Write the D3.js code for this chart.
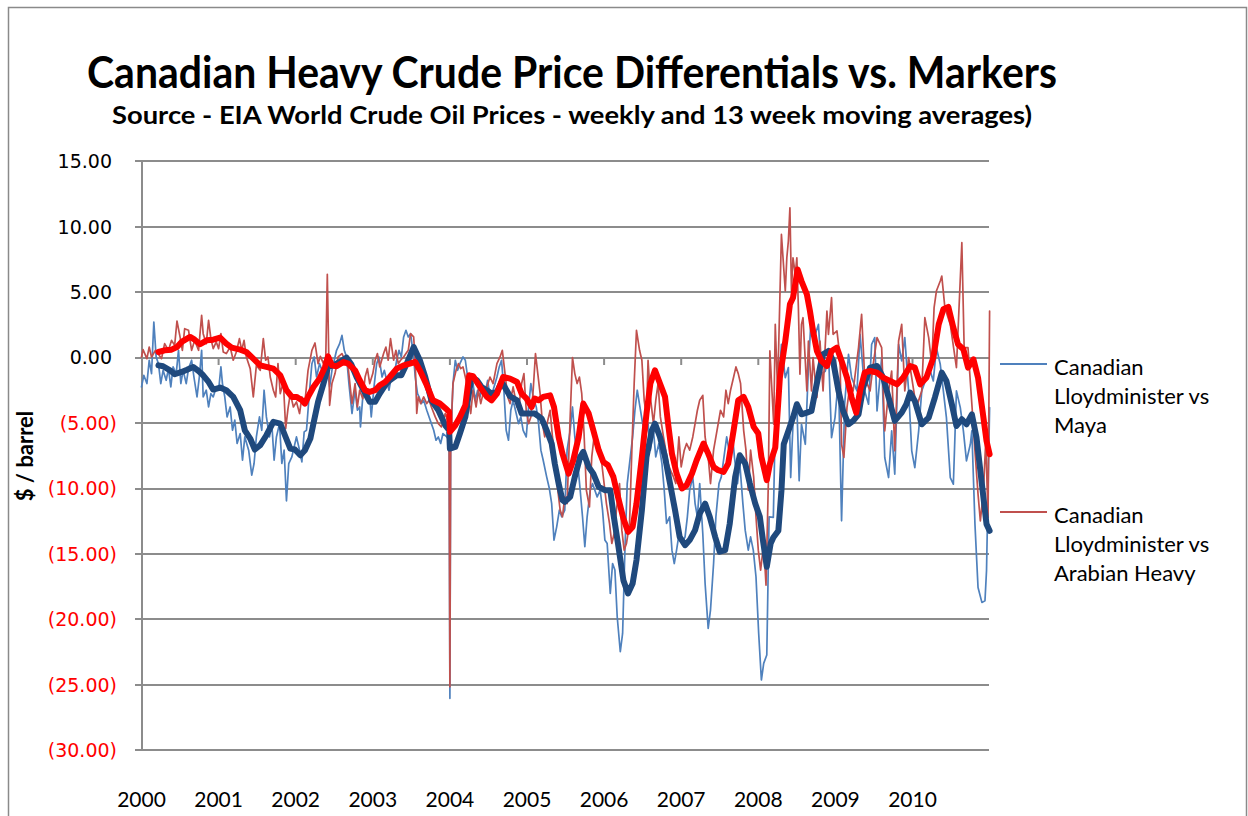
<!DOCTYPE html>
<html>
<head>
<meta charset="utf-8">
<script src="https://cdn.jsdelivr.net/npm/d3@7"></script>
<style>
	body { margin: 0; background: #fff; }
	text { font-family: Lato, "Open Sans", sans-serif; }
</style>
</head>
<body>
<svg id="chart" width="1248" height="816"></svg>
<script>
	///////////////////////////////////////////////////////////////////
	//// Data ////////////////////////////////
	///////////////////////////////////////////////////////////////////
	const yTicks = [15, 10, 5, 0, -5, -10, -15, -20, -25, -30];
	const years = [2000, 2001, 2002, 2003, 2004, 2005, 2006, 2007, 2008, 2009, 2010];
	const seriesNames = ["Canadian Lloydminister vs Maya", "Canadian Lloydminister vs Arabian Heavy"];

	// [decimal year, $/barrel]
	const mayaWeekly = [
		[2000.00,-2.24],[2000.03,-1.35],[2000.07,-1.98],[2000.10,-0.20],[2000.13,-1.22],[2000.16,2.72],[2000.19,0.05],[2000.22,-0.46],
		[2000.25,-1.98],[2000.28,-0.97],[2000.32,-1.73],[2000.35,-0.84],[2000.38,-2.24],[2000.41,-0.71],[2000.45,-1.22],[2000.48,0.56],
		[2000.51,-1.98],[2000.54,-0.97],[2000.58,-1.98],[2000.61,-0.84],[2000.65,-0.20],[2000.68,-1.48],[2000.72,-3.00],[2000.75,-1.48],
		[2000.78,0.56],[2000.80,-3.00],[2000.84,-2.49],[2000.87,-3.77],[2000.90,-2.75],[2000.93,-3.00],[2000.97,-2.24],[2001.00,-2.49],
		[2001.03,-0.71],[2001.05,-1.98],[2001.08,-3.00],[2001.11,-4.53],[2001.15,-3.77],[2001.18,-5.55],[2001.21,-4.78],[2001.24,-6.56],
		[2001.28,-5.80],[2001.31,-7.84],[2001.34,-6.06],[2001.39,-7.07],[2001.43,-8.98],[2001.46,-8.09],[2001.49,-6.06],[2001.53,-4.53],
		[2001.56,-5.55],[2001.59,-2.49],[2001.62,-4.53],[2001.66,-6.06],[2001.69,-5.04],[2001.72,-7.84],[2001.75,-6.06],[2001.79,-5.04],
		[2001.82,-8.09],[2001.85,-7.07],[2001.88,-10.94],[2001.91,-8.09],[2001.95,-7.58],[2001.98,-6.82],[2002.01,-6.06],[2002.05,-7.07],
		[2002.08,-7.96],[2002.11,-5.67],[2002.14,-5.55],[2002.18,-2.49],[2002.21,-0.46],[2002.24,0.05],[2002.27,-1.48],[2002.31,-0.46],
		[2002.34,-0.97],[2002.37,-1.22],[2002.40,-0.46],[2002.44,-2.24],[2002.47,-0.97],[2002.50,-0.20],[2002.53,0.56],[2002.57,1.07],
		[2002.60,1.70],[2002.63,0.56],[2002.66,0.05],[2002.69,-1.98],[2002.73,-4.27],[2002.77,-2.49],
		[2002.80,-4.02],[2002.83,-3.77],[2002.84,-5.29],[2002.87,-3.00],[2002.90,-2.75],[2002.93,-2.49],[2002.96,-3.00],[2002.98,-4.53],
		[2003.02,-1.98],[2003.05,-0.46],[2003.08,0.05],[2003.12,-1.48],[2003.15,-0.97],[2003.18,-1.73],[2003.21,-2.49],[2003.24,-1.48],
		[2003.28,-1.22],[2003.31,-0.20],[2003.34,0.56],[2003.37,0.05],[2003.40,1.58],[2003.43,2.09],[2003.46,1.58],[2003.49,1.83],
		[2003.53,0.05],[2003.55,-1.48],[2003.58,-2.75],[2003.60,-3.00],[2003.63,-3.51],[2003.66,-3.26],[2003.70,-4.02],[2003.73,-4.53],
		[2003.76,-5.04],[2003.79,-5.55],[2003.82,-6.31],[2003.85,-6.06],[2003.88,-6.56],[2003.91,-5.80],[2003.96,-6.06],[2003.99,-6.31],
		[2004.00,-26.03],[2004.01,-6.56],[2004.04,-1.98],[2004.07,-0.20],[2004.10,-0.97],[2004.13,-0.46],[2004.17,0.05],[2004.20,-0.20],
		[2004.23,-1.48],[2004.26,-2.49],[2004.30,-1.98],[2004.33,-3.26],[2004.36,-2.49],[2004.39,-3.00],[2004.42,-2.24],[2004.455,-2.75],
		[2004.49,-1.73],[2004.52,-3.00],[2004.56,-2.49],[2004.61,-1.48],[2004.64,-0.71],[2004.67,-0.20],[2004.70,-2.49],[2004.73,-5.55],
		[2004.76,-6.31],[2004.79,-4.02],[2004.82,-3.26],[2004.86,-4.27],[2004.89,-5.04],[2004.92,-4.53],[2004.95,-5.55],[2004.99,-6.06],
		[2005.02,-3.77],[2005.05,-1.98],[2005.08,-3.00],[2005.12,-3.77],[2005.15,-5.04],[2005.18,-7.07],[2005.21,-7.84],[2005.255,-9.11],
		[2005.29,-10.00],[2005.32,-11.15],[2005.35,-13.94],[2005.385,-12.93],[2005.42,-11.65],[2005.45,-12.16],[2005.49,-11.65],
		[2005.52,-7.07],[2005.56,-5.55],[2005.59,-3.77],[2005.62,-6.06],[2005.65,-7.58],[2005.69,-10.13],[2005.72,-12.16],[2005.75,-14.45],
		[2005.78,-12.16],[2005.82,-10.13],[2005.85,-9.62],[2005.88,-10.13],[2005.91,-10.64],[2005.95,-10.13],[2005.98,-11.65],[2006.01,-13.94],
		[2006.04,-14.20],[2006.08,-18.02],[2006.11,-15.73],[2006.14,-16.23],[2006.17,-19.80],[2006.21,-22.47],[2006.24,-21.07],[2006.27,-14.71],
		[2006.30,-9.62],[2006.34,-7.58],[2006.37,-6.06],[2006.40,-4.02],[2006.43,-2.49],[2006.465,-3.77],[2006.50,-5.04],[2006.535,-6.06],
		[2006.57,-5.04],[2006.60,-7.07],[2006.64,-5.55],[2006.67,-7.58],[2006.71,-6.56],[2006.75,-8.09],[2006.78,-10.13],[2006.81,-12.67],
		[2006.85,-12.16],[2006.88,-14.71],[2006.91,-15.73],[2006.94,-14.71],[2006.98,-13.18],[2007.01,-14.20],[2007.05,-13.69],[2007.08,-12.16],
		[2007.11,-10.13],[2007.15,-9.11],[2007.18,-11.15],[2007.21,-12.16],[2007.24,-9.62],[2007.28,-13.44],[2007.31,-17.25],[2007.35,-20.69],
		[2007.38,-19.29],[2007.42,-15.73],[2007.45,-12.16],[2007.49,-9.62],[2007.52,-9.11],[2007.555,-7.58],[2007.59,-6.06],[2007.62,-7.07],
		[2007.66,-5.55],[2007.69,-7.58],[2007.73,-9.62],[2007.76,-8.09],[2007.80,-11.15],[2007.83,-13.18],[2007.87,-14.71],[2007.90,-13.69],
		[2007.935,-14.71],[2007.97,-16.74],[2008.005,-21.07],[2008.04,-24.63],[2008.07,-23.36],[2008.11,-22.72],[2008.14,-12.16],
		[2008.195,-12.21],[2008.22,-5.09],[2008.26,-2.54],[2008.30,1.02],[2008.35,-1.53],[2008.39,-0.76],[2008.42,-9.16],[2008.45,-5.09],
		[2008.50,-3.56],[2008.53,-9.41],[2008.56,-5.09],[2008.61,-6.62],[2008.65,-0.76],[2008.69,3.56],[2008.74,1.78],[2008.78,2.54],
		[2008.82,-1.27],[2008.87,-1.02],[2008.91,0.51],[2008.95,-6.11],[2008.995,-4.58],[2009.04,-1.53],[2009.08,-12.47],[2009.12,-3.56],
		[2009.17,0.25],[2009.21,-1.53],[2009.28,-2.54],[2009.32,1.78],[2009.38,-2.54],[2009.43,-3.56],[2009.47,1.02],[2009.51,1.53],
		[2009.54,-4.07],[2009.60,0.00],[2009.64,-7.63],[2009.69,-9.16],[2009.73,-5.60],[2009.77,-8.91],[2009.82,1.02],[2009.86,-0.25],
		[2009.90,1.53],[2009.95,-2.54],[2009.99,-7.12],[2010.03,-8.40],[2010.08,-5.60],[2010.12,-2.54],[2010.18,-1.53],[2010.23,-1.02],
		[2010.27,-1.78],[2010.31,0.76],[2010.36,-0.51],[2010.40,-2.54],[2010.44,-4.58],[2010.49,-9.16],[2010.53,-9.67],[2010.57,-2.54],
		[2010.62,-3.82],[2010.66,-5.60],[2010.70,-7.89],[2010.75,-6.62],[2010.77,-5.60],[2010.81,-12.72],[2010.85,-17.56],[2010.90,-18.70],
		[2010.94,-18.58],[2010.96,-16.28],[2011.00,-3.82]
	];

	const arabWeekly = [
		[2000.00,0.05],[2000.02,0.61],[2000.07,-0.08],[2000.10,0.81],[2000.13,0.05],[2000.18,0.56],[2000.22,0.25],[2000.26,-0.08],
		[2000.30,1.07],[2000.35,0.56],[2000.39,1.32],[2000.43,0.94],[2000.46,2.80],[2000.50,1.58],[2000.53,0.56],[2000.56,2.21],
		[2000.61,2.09],[2000.65,0.56],[2000.69,1.32],[2000.74,0.56],[2000.78,3.23],[2000.80,1.83],[2000.84,1.07],[2000.87,2.85],
		[2000.90,1.45],[2000.93,0.69],[2000.97,1.20],[2001.00,0.69],[2001.03,1.83],[2001.06,0.43],[2001.10,0.31],[2001.15,0.81],
		[2001.19,-0.20],[2001.23,0.43],[2001.27,1.45],[2001.30,0.56],[2001.33,1.32],[2001.36,0.05],[2001.41,-0.84],[2001.45,-3.00],
		[2001.49,-0.59],[2001.54,-0.97],[2001.58,1.45],[2001.61,-0.20],[2001.64,0.05],[2001.67,-1.48],[2001.71,-2.49],[2001.74,-3.00],
		[2001.77,-0.46],[2001.80,-2.75],[2001.84,-1.86],[2001.87,-5.42],[2001.90,-3.89],[2001.93,-2.75],[2001.97,-3.77],[2002.01,-3.38],
		[2002.05,-4.27],[2002.08,-3.00],[2002.12,-3.38],[2002.16,-0.97],[2002.21,0.56],[2002.25,1.12],[2002.29,-0.46],[2002.32,0.10],
		[2002.36,-0.46],[2002.39,0.05],[2002.41,6.36],[2002.44,-3.64],[2002.47,-1.98],[2002.51,-1.22],[2002.55,0.05],[2002.60,0.31],
		[2002.64,-0.20],[2002.68,-0.71],[2002.73,-3.51],[2002.77,-1.98],
		[2002.80,-3.77],[2002.83,-2.49],[2002.87,-3.13],[2002.90,-1.48],[2002.93,-0.84],[2002.96,-1.98],[2003.00,-1.22],[2003.03,-0.20],
		[2003.06,0.31],[2003.09,-0.71],[2003.14,0.31],[2003.17,0.81],[2003.20,-0.20],[2003.23,1.45],[2003.27,-0.20],[2003.30,0.56],
		[2003.33,-0.46],[2003.36,-0.20],[2003.40,0.05],[2003.43,0.31],[2003.46,0.56],[2003.49,1.83],[2003.53,1.58],[2003.55,-0.20],
		[2003.57,-4.27],[2003.59,-3.00],[2003.62,-3.51],[2003.66,-3.00],[2003.70,-3.51],[2003.73,-3.26],[2003.76,-3.77],[2003.81,-4.53],
		[2003.85,-5.04],[2003.89,-5.29],[2003.94,-4.27],[2003.98,-5.04],[2003.99,-6.06],[2004.00,-25.14],[2004.01,-6.06],[2004.04,-1.98],
		[2004.08,-0.97],[2004.11,-0.46],[2004.14,-0.84],[2004.17,-0.71],[2004.21,-1.73],[2004.24,-3.00],[2004.27,-4.27],[2004.30,-2.49],
		[2004.34,-3.77],[2004.37,-2.49],[2004.40,-3.51],[2004.43,-2.75],[2004.48,-2.24],[2004.52,-1.48],[2004.56,-1.98],[2004.61,-0.46],
		[2004.65,0.05],[2004.68,0.56],[2004.71,-0.97],[2004.75,-3.00],[2004.78,-3.51],[2004.82,-2.24],[2004.87,-3.77],[2004.90,-3.51],
		[2004.93,-1.98],[2004.96,-1.22],[2004.99,-4.02],[2005.02,-5.04],[2005.05,-4.53],[2005.08,-2.49],[2005.11,0.31],[2005.14,-1.22],
		[2005.17,-2.75],[2005.20,-5.04],[2005.23,-6.06],[2005.26,-5.04],[2005.30,-4.02],[2005.33,-6.06],[2005.36,-7.58],[2005.39,-9.62],
		[2005.43,-11.65],[2005.46,-12.16],[2005.49,-10.64],
		[2005.52,-11.15],[2005.56,-4.53],[2005.59,0.00],[2005.62,-1.22],[2005.65,-1.98],[2005.68,-1.48],[2005.71,-2.75],[2005.74,-5.80],
		[2005.77,-10.13],[2005.81,-11.40],[2005.84,-7.58],[2005.87,-6.06],[2005.90,-6.06],[2005.94,-7.07],[2005.97,-8.09],[2006.00,-9.62],
		[2006.03,-11.15],[2006.07,-12.67],[2006.10,-14.20],[2006.13,-13.44],[2006.16,-11.65],[2006.20,-9.62],[2006.23,-13.18],[2006.26,-14.71],
		[2006.29,-14.20],[2006.33,-12.67],[2006.36,-7.07],[2006.39,-1.98],[2006.42,2.09],[2006.46,0.56],[2006.49,-0.20],[2006.52,-3.26],
		[2006.55,-4.53],[2006.57,-0.20],[2006.60,-3.00],[2006.64,-5.04],[2006.67,-3.26],[2006.70,-1.98],[2006.73,-4.53],[2006.77,-6.06],
		[2006.80,-7.07],[2006.83,-8.09],[2006.86,-8.60],[2006.90,-9.11],[2006.93,-9.62],[2006.97,-6.06],[2007.00,-8.35],[2007.04,-7.07],
		[2007.07,-6.56],[2007.11,-7.07],[2007.15,-6.06],[2007.18,-5.04],[2007.21,-4.02],[2007.24,-3.26],[2007.28,-2.88],[2007.31,-6.06],
		[2007.35,-7.58],[2007.38,-9.62],[2007.42,-7.07],[2007.45,-6.06],[2007.48,-5.04],[2007.51,-4.02],[2007.55,-4.53],[2007.58,-2.49],
		[2007.61,-3.51],[2007.64,-2.49],[2007.68,-1.48],[2007.71,-0.71],[2007.74,-1.22],[2007.77,-1.98],[2007.81,-5.55],[2007.84,-7.07],
		[2007.87,-10.13],[2007.90,-7.07],[2007.94,-9.11],[2007.97,-12.16],[2008.00,-14.71],[2008.03,-16.23],[2008.07,-14.20],[2008.10,-17.38],
		[2008.13,-9.62],
		[2008.15,0.51],[2008.20,-5.09],[2008.22,2.54],[2008.25,-2.54],[2008.30,9.41],[2008.35,5.09],[2008.37,7.63],[2008.39,8.91],
		[2008.41,11.45],[2008.43,5.09],[2008.45,7.63],[2008.48,6.36],[2008.50,7.63],[2008.52,3.82],[2008.54,-1.27],[2008.56,2.54],
		[2008.58,3.05],[2008.63,-2.54],[2008.65,1.27],[2008.69,-2.54],[2008.71,0.00],[2008.76,-3.05],[2008.80,1.27],[2008.84,-2.54],
		[2008.89,3.56],[2008.91,1.78],[2008.95,4.58],[2008.97,1.78],[2009.02,2.04],[2009.06,0.00],[2009.08,-6.62],[2009.11,-7.63],
		[2009.15,-3.82],[2009.19,-2.04],[2009.23,-2.54],[2009.30,0.76],[2009.34,3.31],[2009.38,-1.53],[2009.45,-2.54],[2009.49,-0.51],
		[2009.54,1.53],[2009.60,0.76],[2009.64,-5.60],[2009.69,-2.54],[2009.73,-1.02],[2009.77,-7.12],[2009.82,1.27],[2009.86,2.54],
		[2009.90,-2.54],[2009.95,0.00],[2009.99,-1.53],[2010.05,-3.82],[2010.12,-2.54],[2010.16,3.05],[2010.21,1.53],[2010.25,-0.51],
		[2010.28,3.82],[2010.31,5.09],[2010.36,5.85],[2010.38,6.23],[2010.42,3.82],[2010.49,2.54],[2010.57,-0.76],[2010.64,8.78],
		[2010.67,0.76],[2010.72,0.76],[2010.77,-3.56],[2010.81,-7.12],[2010.85,-10.43],[2010.88,-12.47],[2010.92,-10.18],[2010.95,-6.36],
		[2010.98,-12.21],[2011.00,3.56]
	];

	// 13 week moving averages
	const mayaAvg = [
		[2000.22,-0.59],[2000.28,-0.66],[2000.37,-0.97],[2000.43,-1.27],[2000.52,-1.09],[2000.59,-0.92],[2000.67,-0.71],[2000.74,-1.02],
		[2000.80,-1.35],[2000.87,-1.86],[2000.93,-2.44],[2001.02,-2.29],[2001.10,-2.49],[2001.19,-3.00],[2001.28,-4.02],[2001.34,-5.55],
		[2001.41,-6.18],[2001.47,-7.02],[2001.54,-6.69],[2001.62,-5.93],[2001.71,-4.91],[2001.80,-5.04],[2001.86,-5.93],[2001.93,-6.95],
		[2001.99,-7.02],[2002.06,-7.46],[2002.12,-7.07],[2002.19,-6.18],[2002.23,-5.04],[2002.29,-3.38],[2002.36,-1.98],[2002.42,-0.71],
		[2002.49,-0.59],[2002.57,-0.33],[2002.66,0.00],[2002.72,-0.50],[2002.79,-1.48],[2002.88,-2.49],[2002.96,-3.38],[2003.03,-3.38],
		[2003.09,-2.75],[2003.16,-2.11],[2003.22,-1.73],[2003.31,-1.35],[2003.37,-1.35],[2003.44,-0.46],[2003.53,0.81],[2003.61,-0.20],
		[2003.68,-1.48],[2003.76,-3.26],[2003.85,-4.02],[2003.94,-5.17],[2003.99,-5.55],[2004.00,-6.95],[2004.07,-6.82],[2004.13,-5.80],
		[2004.20,-4.53],[2004.24,-3.00],[2004.28,-1.48],[2004.35,-1.73],[2004.41,-2.24],[2004.48,-2.49],[2004.54,-2.75],[2004.61,-2.62],
		[2004.67,-1.86],[2004.71,-2.24],[2004.78,-2.95],[2004.87,-3.26],[2004.93,-4.27],[2004.995,-4.27],[2005.10,-4.27],[2005.19,-4.66],
		[2005.255,-5.55],[2005.32,-6.56],[2005.36,-8.09],[2005.41,-9.62],[2005.46,-10.89],[2005.49,-11.02],[2005.56,-10.64],[2005.62,-9.11],
		[2005.69,-7.58],[2005.73,-7.20],[2005.80,-8.35],[2005.86,-8.86],[2005.93,-9.87],[2006.01,-10.13],[2006.08,-10.13],[2006.12,-11.91],
		[2006.18,-14.20],[2006.25,-17.00],[2006.31,-18.02],[2006.37,-17.25],[2006.42,-15.47],[2006.49,-11.65],[2006.55,-7.58],[2006.62,-5.55],
		[2006.66,-5.04],[2006.725,-6.06],[2006.79,-7.58],[2006.855,-9.62],[2006.92,-11.65],[2006.98,-13.69],[2007.05,-14.33],[2007.11,-13.94],
		[2007.18,-13.18],[2007.24,-11.91],[2007.31,-11.15],[2007.37,-12.16],[2007.44,-13.69],[2007.50,-14.83],[2007.57,-14.71],[2007.63,-12.67],
		[2007.70,-9.11],[2007.76,-7.46],[2007.83,-8.09],[2007.89,-9.62],[2007.96,-11.15],[2008.02,-12.16],[2008.06,-13.94],[2008.11,-15.98],
		[2008.16,-14.20],[2008.195,-13.74],[2008.26,-13.23],[2008.30,-10.18],[2008.33,-6.62],[2008.39,-5.60],[2008.45,-4.58],[2008.50,-3.56],
		[2008.56,-4.33],[2008.63,-4.20],[2008.69,-4.07],[2008.74,-2.54],[2008.80,-0.76],[2008.84,0.25],[2008.91,0.51],[2008.97,-0.25],
		[2009.04,-2.54],[2009.10,-4.07],[2009.17,-5.09],[2009.23,-4.83],[2009.30,-4.33],[2009.36,-2.29],[2009.45,-0.76],[2009.54,-0.64],
		[2009.62,-1.53],[2009.69,-3.05],[2009.77,-4.83],[2009.86,-4.20],[2009.92,-3.56],[2009.97,-2.67],[2010.03,-3.31],[2010.12,-5.09],
		[2010.21,-4.58],[2010.29,-3.05],[2010.38,-1.15],[2010.44,-1.78],[2010.51,-3.56],[2010.57,-5.22],[2010.64,-4.71],[2010.70,-5.09],
		[2010.77,-4.33],[2010.83,-6.11],[2010.90,-9.67],[2010.96,-12.72],[2011.00,-13.23]
	];

	const arabAvg = [
		[2000.22,0.43],[2000.30,0.56],[2000.39,0.61],[2000.46,0.81],[2000.52,1.20],[2000.63,1.58],[2000.69,1.37],[2000.76,1.02],
		[2000.845,1.32],[2000.93,1.37],[2001.02,1.53],[2001.10,1.07],[2001.17,0.76],[2001.28,0.61],[2001.36,0.43],[2001.45,-0.08],
		[2001.54,-0.59],[2001.62,-0.71],[2001.71,-0.84],[2001.80,-1.35],[2001.88,-2.49],[2001.95,-3.00],[2002.01,-3.00],[2002.08,-3.26],
		[2002.12,-3.51],[2002.16,-3.00],[2002.23,-2.24],[2002.31,-1.60],[2002.38,-0.71],[2002.42,0.10],[2002.47,-0.59],[2002.53,-0.66],
		[2002.62,-0.33],[2002.68,-0.46],[2002.77,-0.97],[2002.83,-1.73],[2002.90,-2.49],[2002.96,-2.62],[2003.03,-2.49],[2003.09,-2.11],
		[2003.16,-1.86],[2003.22,-1.48],[2003.31,-0.84],[2003.40,-0.59],[2003.48,-0.46],[2003.55,-0.33],[2003.61,-0.97],[2003.70,-2.11],
		[2003.78,-3.26],[2003.87,-3.51],[2003.96,-3.97],[2003.99,-4.15],[2004.00,-5.67],[2004.07,-5.17],[2004.13,-4.53],[2004.20,-3.64],
		[2004.25,-1.35],[2004.30,-1.42],[2004.39,-2.24],[2004.48,-3.00],[2004.54,-3.26],[2004.61,-2.75],[2004.69,-1.48],[2004.78,-1.60],
		[2004.87,-1.86],[2004.93,-2.75],[2004.995,-3.13],[2005.06,-3.77],[2005.10,-3.13],[2005.15,-3.26],[2005.21,-3.00],[2005.30,-2.88],
		[2005.35,-3.77],[2005.41,-6.06],[2005.46,-7.33],[2005.54,-8.86],[2005.60,-7.84],[2005.67,-6.06],[2005.73,-3.51],[2005.80,-4.27],
		[2005.86,-5.55],[2005.93,-7.07],[2005.99,-7.96],[2006.05,-8.22],[2006.12,-9.11],[2006.18,-10.64],[2006.25,-12.29],[2006.31,-13.31],
		[2006.37,-12.93],[2006.42,-11.15],[2006.49,-7.58],[2006.55,-4.27],[2006.60,-1.98],[2006.66,-0.97],[2006.725,-1.98],[2006.79,-3.00],
		[2006.83,-5.04],[2006.88,-7.33],[2006.94,-8.86],[2007.01,-10.00],[2007.07,-9.75],[2007.14,-8.86],[2007.20,-7.84],[2007.29,-6.56],
		[2007.35,-7.33],[2007.42,-8.35],[2007.48,-8.60],[2007.55,-8.73],[2007.61,-8.09],[2007.68,-5.55],[2007.74,-3.26],[2007.81,-3.00],
		[2007.87,-3.77],[2007.94,-5.29],[2008.00,-5.80],[2008.04,-7.58],[2008.11,-9.36],[2008.15,-8.14],[2008.22,-6.87],[2008.28,-1.53],
		[2008.35,1.27],[2008.41,4.07],[2008.45,4.58],[2008.51,6.74],[2008.56,5.85],[2008.63,4.83],[2008.67,3.56],[2008.71,2.04],
		[2008.76,0.51],[2008.82,-0.25],[2008.89,-0.64],[2008.95,0.51],[2009.02,0.76],[2009.08,-0.25],[2009.15,-1.53],[2009.21,-3.05],
		[2009.27,-4.20],[2009.32,-2.54],[2009.38,-1.15],[2009.45,-1.02],[2009.54,-1.15],[2009.62,-1.53],[2009.71,-1.78],[2009.80,-2.04],
		[2009.88,-1.53],[2009.97,-0.64],[2010.03,-0.76],[2010.10,-2.04],[2010.18,-1.53],[2010.27,0.00],[2010.34,2.54],[2010.40,3.69],
		[2010.465,3.87],[2010.53,2.29],[2010.59,1.02],[2010.66,0.64],[2010.72,-0.76],[2010.79,-0.13],[2010.85,-1.53],[2010.92,-4.58],
		[2010.96,-6.36],[2011.00,-7.38]
	];

	///////////////////////////////////////////////////////////////////
	//// Set up ///////////////////////////////////////////////////////
	///////////////////////////////////////////////////////////////////
	const plot = {left: 142, right: 989, top: 161.3, bottom: 750.3};

	const x = d3.scaleLinear()
			.domain([2000, 2011])
			.range([141.5, 989.6]);

	const y = d3.scaleLinear()
			.domain([-30, 15])
			.range([plot.bottom, plot.top]);

	const colors = {
		mayaThin: "#4F81BD",
		arabThin: "#C0504D",
		mayaThick: "#1F497D",
		arabThick: "#FF0000",
		grid: "#8c8c8c"
	};

	const svg = d3.select("#chart");

	// outer chart border
	svg.append("rect")
			.attr("x", 8.5)
			.attr("y", 7.5)
			.attr("width", 1238)
			.attr("height", 830)
			.style("fill", "none")
			.style("stroke", "#8a8a8a")
			.style("stroke-width", 1.5);

	///////////////////////////////////////////////////////////////////
	//// Titles ///////////////////////////////////////////////////////
	///////////////////////////////////////////////////////////////////
	svg.append("text")
			.attr("x", 572)
			.attr("y", 88)
			.attr("text-anchor", "middle")
			.attr("textLength", 970)
			.attr("lengthAdjust", "spacingAndGlyphs")
			.style("font-size", "43px")
			.style("font-weight", "bold")
			.text("Canadian Heavy Crude Price Differentials vs. Markers");

	svg.append("text")
			.attr("x", 572)
			.attr("y", 124)
			.attr("text-anchor", "middle")
			.attr("textLength", 920)
			.attr("lengthAdjust", "spacingAndGlyphs")
			.style("font-size", "24px")
			.style("font-weight", "bold")
			.text("Source - EIA World Crude Oil Prices - weekly and 13 week moving averages)");

	svg.append("text")
			.attr("transform", "translate(33, 456) rotate(-90)")
			.attr("text-anchor", "middle")
			.style("font-size", "22px")
			.style("font-weight", "bold")
			.text("$ / barrel");

	///////////////////////////////////////////////////////////////////
	//// Axes and grid ////////////////////////////////////////////////
	///////////////////////////////////////////////////////////////////
	const grid = svg.append("g").attr("class", "grid");

	grid.selectAll("line")
		.data(yTicks)
		.enter().append("line")
			.attr("x1", plot.left - 7)
			.attr("x2", plot.right)
			.attr("y1", d => Math.round(y(d)))
			.attr("y2", d => Math.round(y(d)))
			.style("stroke", colors.grid)
			.style("stroke-width", 2);

	svg.append("line")
			.attr("x1", plot.left)
			.attr("x2", plot.left)
			.attr("y1", Math.round(y(15)))
			.attr("y2", Math.round(y(-30)))
			.style("stroke", colors.grid)
			.style("stroke-width", 2);

	// small year ticks hanging from the zero line
	svg.append("g").selectAll("line")
		.data(years.slice(1))
		.enter().append("line")
			.attr("x1", d => x(d))
			.attr("x2", d => x(d))
			.attr("y1", Math.round(y(0)))
			.attr("y2", Math.round(y(0)) + 7)
			.style("stroke", colors.grid)
			.style("stroke-width", 2);

	const fmt = d3.format(".2f");
	svg.append("g").selectAll("text")
		.data(yTicks)
		.enter().append("text")
			.attr("x", d => d < 0 ? 117 : 112)
			.attr("y", d => y(d))
			.attr("dy", "0.36em")
			.attr("text-anchor", "end")
			.style("font-family", "'DejaVu Sans', Verdana, sans-serif")
			.style("font-size", "19px")
			.style("fill", d => d < 0 ? "#FF0000" : "#000")
			.text(d => d < 0 ? "(" + fmt(-d) + ")" : fmt(d));

	svg.append("g").selectAll("text")
		.data(years)
		.enter().append("text")
			.attr("x", d => x(d))
			.attr("y", 807)
			.attr("text-anchor", "middle")
			.style("font-size", "21px")
			.text(d => d);

	///////////////////////////////////////////////////////////////////
	//// Lines ////////////////////////////////////////////////////////
	///////////////////////////////////////////////////////////////////
	const line = d3.line()
			.x(d => x(d[0]))
			.y(d => y(d[1]));

	const lines = [
		{data: mayaWeekly, color: colors.mayaThin, width: 1.7},
		{data: arabWeekly, color: colors.arabThin, width: 1.7},
		{data: mayaAvg, color: colors.mayaThick, width: 6},
		{data: arabAvg, color: colors.arabThick, width: 6}
	];

	svg.append("g").selectAll("path")
		.data(lines)
		.enter().append("path")
			.attr("d", d => line(d.data))
			.style("fill", "none")
			.style("stroke", d => d.color)
			.style("stroke-width", d => d.width)
			.style("stroke-linejoin", "round")
			.style("stroke-linecap", "round");

	///////////////////////////////////////////////////////////////////
	//// Legend ///////////////////////////////////////////////////////
	///////////////////////////////////////////////////////////////////
	const legendItems = [
		{lines: ["Canadian", "Lloydminister vs", "Maya"], color: colors.mayaThin, y: 364},
		{lines: ["Canadian", "Lloydminister vs", "Arabian Heavy"], color: colors.arabThin, y: 512}
	];

	const legend = svg.append("g").selectAll("g")
		.data(legendItems)
		.enter().append("g")
			.attr("transform", d => `translate(1000, ${d.y})`);

	legend.append("line")
			.attr("x1", 0)
			.attr("x2", 47)
			.style("stroke", d => d.color)
			.style("stroke-width", 2);

	legend.append("text")
			.style("font-size", "22px")
			.selectAll("tspan")
			.data(d => d.lines)
			.enter().append("tspan")
				.attr("x", 54)
				.attr("y", (d, i) => 11 + i * 29)
				.text(d => d);
</script>
</body>
</html>
